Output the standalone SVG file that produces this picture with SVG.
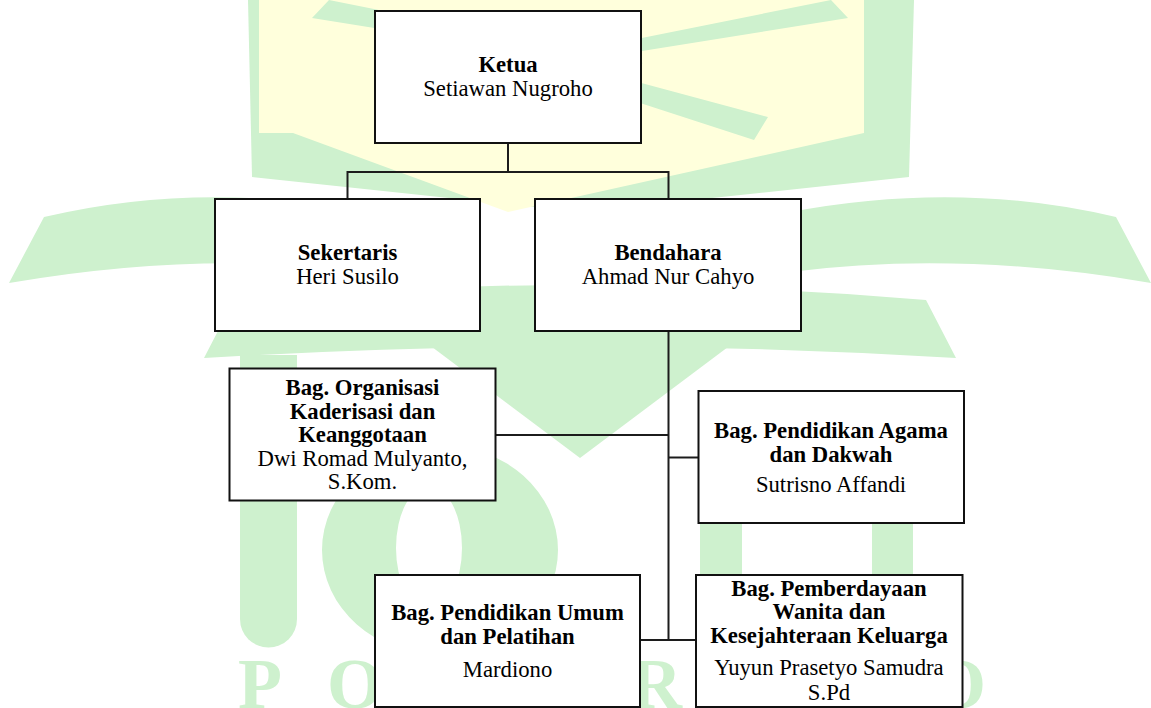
<svg xmlns="http://www.w3.org/2000/svg" width="1151" height="708" viewBox="0 0 1151 708">
<style>
.wm{fill:#cef1ce;stroke:none}
.wy{fill:#ffffdc;stroke:none}
.box{fill:#ffffff;stroke:#111111;stroke-width:2}
.con{fill:none;stroke:#1c1c1c;stroke-width:2}
text{font-family:"Liberation Serif","Times New Roman",serif;font-size:22.7px;fill:#000000;text-anchor:middle}
.b{font-weight:bold}
.wmt{font-family:"Liberation Serif","Times New Roman",serif;font-size:72px;font-weight:bold;fill:#cef1ce;text-anchor:start}
</style>
<rect x="0" y="0" width="1151" height="708" fill="#ffffff"/>
<g id="watermark">
  <polygon class="wm" points="248,0 914,0 909,177 580,212 252,177"/>
  <polygon class="wy" points="259,0 864,0 864,133 508,212 293,133 259,133"/>
  <polygon class="wm" points="831,0 848,18 567,63 768,117 754,140 517,63"/>
  <polygon class="wm" points="329,0 312,18 593,63 392,117 406,140 643,63"/>
  <path class="wm" d="M1116 217 Q960 180 790 212 L790 272 Q960 250 1151 283 Z"/>
  <path class="wm" d="M44 217 Q200 180 370 212 L370 272 Q200 250 9 283 Z"/>
  <path class="wm" d="M234 300 Q580 270 926 300 L956 358 Q580 335 204 358 Z"/>
  <polygon class="wm" points="420,338 740,338 580,458"/>
  <path class="wm" d="M240 355 H297 V619 A28.5 28.5 0 0 1 240 619 Z"/>
  <path class="wm" fill-rule="evenodd" d="M322 550 A118 105 0 1 0 558 550 A118 105 0 1 0 322 550 Z M396 548 A33 62 0 1 0 462 548 A33 62 0 1 0 396 548 Z"/>
  <rect class="wm" x="700" y="400" width="42" height="308"/>
  <rect class="wm" x="872" y="400" width="41" height="308"/>
  <text class="wmt" x="238" y="708">P</text>
  <text class="wmt" x="327" y="708">O</text>
  <text class="wmt" x="630" y="708">R</text>
  <text class="wmt" x="930" y="708">O</text>
</g>
<g id="connectors">
  <path class="con" d="M508 143 V172"/>
  <path class="con" d="M347.5 199 V172 H668.5 V199"/>
  <path class="con" d="M668.5 331 V640"/>
  <path class="con" d="M495.5 435 H668.5"/>
  <path class="con" d="M668.5 457.5 H698.5"/>
  <path class="con" d="M640 640 H696"/>
</g>
<g id="ketua">
  <rect class="box" x="375" y="11" width="266" height="132"/>
  <text class="b" x="508" y="71.5">Ketua</text>
  <text x="508" y="95.5">Setiawan Nugroho</text>
</g>
<g id="sekertaris">
  <rect class="box" x="215" y="199" width="265" height="132"/>
  <text class="b" x="347.5" y="260">Sekertaris</text>
  <text x="347.5" y="284">Heri Susilo</text>
</g>
<g id="bendahara">
  <rect class="box" x="535" y="199" width="266" height="132"/>
  <text class="b" x="668" y="260">Bendahara</text>
  <text x="668" y="284">Ahmad Nur Cahyo</text>
</g>
<g id="organisasi">
  <rect class="box" x="229.5" y="368.5" width="266" height="132"/>
  <text class="b" x="362.5" y="395">Bag. Organisasi</text>
  <text class="b" x="362.5" y="418.5">Kaderisasi dan</text>
  <text class="b" x="362.5" y="442">Keanggotaan</text>
  <text x="362.5" y="465.5">Dwi Romad Mulyanto,</text>
  <text x="362.5" y="489">S.Kom.</text>
</g>
<g id="agama">
  <rect class="box" x="698.5" y="391" width="265.5" height="132"/>
  <text class="b" x="831" y="438.3">Bag. Pendidikan Agama</text>
  <text class="b" x="831" y="461.8">dan Dakwah</text>
  <text x="831" y="492">Sutrisno Affandi</text>
</g>
<g id="umum">
  <rect class="box" x="375" y="575" width="265" height="132"/>
  <text class="b" x="507.5" y="620">Bag. Pendidikan Umum</text>
  <text class="b" x="507.5" y="643.5">dan Pelatihan</text>
  <text x="507.5" y="677">Mardiono</text>
</g>
<g id="pemberdayaan">
  <rect class="box" x="696" y="575" width="266.5" height="132"/>
  <text class="b" x="829" y="596">Bag. Pemberdayaan</text>
  <text class="b" x="829" y="619.3">Wanita dan</text>
  <text class="b" x="829" y="642.7">Kesejahteraan Keluarga</text>
  <text x="829" y="675">Yuyun Prasetyo  Samudra</text>
  <text x="829" y="700">S.Pd</text>
</g>
</svg>
